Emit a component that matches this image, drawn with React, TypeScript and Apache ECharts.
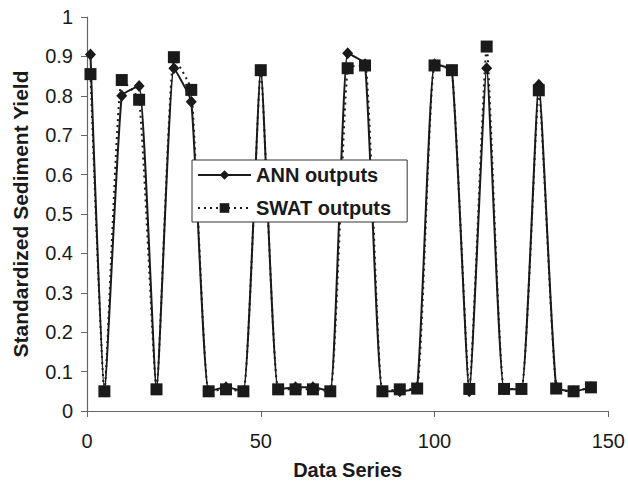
import React, { useEffect, useRef } from "react";
import * as echarts from "echarts";

const xValues = [1, 5, 10, 15, 20, 25, 30, 35, 40, 45, 50, 55, 60, 65, 70, 75, 80, 85, 90, 95, 100, 105, 110, 115, 120, 125, 130, 135, 140, 145];
const annOutputs = [0.905, 0.05, 0.8, 0.825, 0.055, 0.87, 0.785, 0.05, 0.06, 0.05, 0.865, 0.055, 0.06, 0.06, 0.05, 0.908, 0.88, 0.05, 0.05, 0.06, 0.88, 0.865, 0.05, 0.87, 0.055, 0.055, 0.828, 0.06, 0.05, 0.06];
const swatOutputs = [0.855, 0.05, 0.84, 0.79, 0.055, 0.898, 0.815, 0.05, 0.055, 0.05, 0.865, 0.055, 0.055, 0.055, 0.05, 0.87, 0.877, 0.05, 0.055, 0.057, 0.877, 0.865, 0.056, 0.925, 0.056, 0.056, 0.814, 0.057, 0.05, 0.06];
const xTicks = { min: 0, max: 150, interval: 50 };
const yTicks = { min: 0, max: 1, interval: 0.1 };

const FONT = "'Liberation Sans', Arial, sans-serif";
const INK = "#1a1a1a";

export default function App() {
  const ref = useRef<HTMLDivElement>(null);
  useEffect(() => {
    if (!ref.current) return;
    const chart = echarts.init(ref.current, undefined, { renderer: "svg" });
    const pair = (ys: number[]) => xValues.map((x, i) => [x, ys[i]]);
    chart.setOption({
      animation: false,
      backgroundColor: "#fff",
      grid: { left: 87, right: 19, top: 17, bottom: 71 },
      legend: {
        left: 192,
        top: 160,
        orient: "vertical",
        padding: [5, 16, 4, 5],
        itemGap: 13,
        itemWidth: 53,
        itemHeight: 12,
        borderColor: "#333",
        borderWidth: 1,
        backgroundColor: "#fff",
        textStyle: { fontFamily: FONT, fontSize: 20, fontWeight: "bold", color: INK },
        data: ["ANN outputs", "SWAT outputs"],
      },
      xAxis: {
        type: "value",
        ...xTicks,
        name: "Data Series",
        nameLocation: "middle",
        nameGap: 49,
        nameTextStyle: { fontFamily: FONT, fontSize: 20, fontWeight: "bold", color: INK },
        axisLine: { lineStyle: { color: "#666", width: 1.2 } },
        axisTick: { show: true, length: 6, lineStyle: { color: "#666" } },
        axisLabel: { fontFamily: FONT, fontSize: 20, color: INK, margin: 20 },
        splitLine: { show: false },
      },
      yAxis: {
        type: "value",
        ...yTicks,
        name: "Standardized Sediment Yield",
        nameLocation: "middle",
        nameGap: 56,
        nameTextStyle: { fontFamily: FONT, fontSize: 21, fontWeight: "bold", color: INK },
        axisLine: { show: true, lineStyle: { color: "#666", width: 1.2 } },
        axisTick: { show: true, length: 6, lineStyle: { color: "#666" } },
        axisLabel: { fontFamily: FONT, fontSize: 20, color: INK, margin: 14 },
        splitLine: { show: false },
      },
      series: [
        {
          name: "ANN outputs",
          type: "line",
          data: pair(annOutputs),
          smooth: 0.15,
          symbol: "diamond",
          symbolSize: [11, 12],
          itemStyle: { color: INK },
          lineStyle: { color: INK, width: 2, type: "solid" },
          z: 2,
        },
        {
          name: "SWAT outputs",
          type: "line",
          data: pair(swatOutputs),
          smooth: 0.15,
          symbol: "rect",
          symbolSize: 12,
          itemStyle: { color: INK },
          lineStyle: { color: INK, width: 2, type: [2, 4] },
          z: 3,
        },
      ],
    });
    return () => chart.dispose();
  }, []);
  return <div ref={ref} style={{ width: 628, height: 485, position: "absolute", left: 0, top: 0 }} />;
}
